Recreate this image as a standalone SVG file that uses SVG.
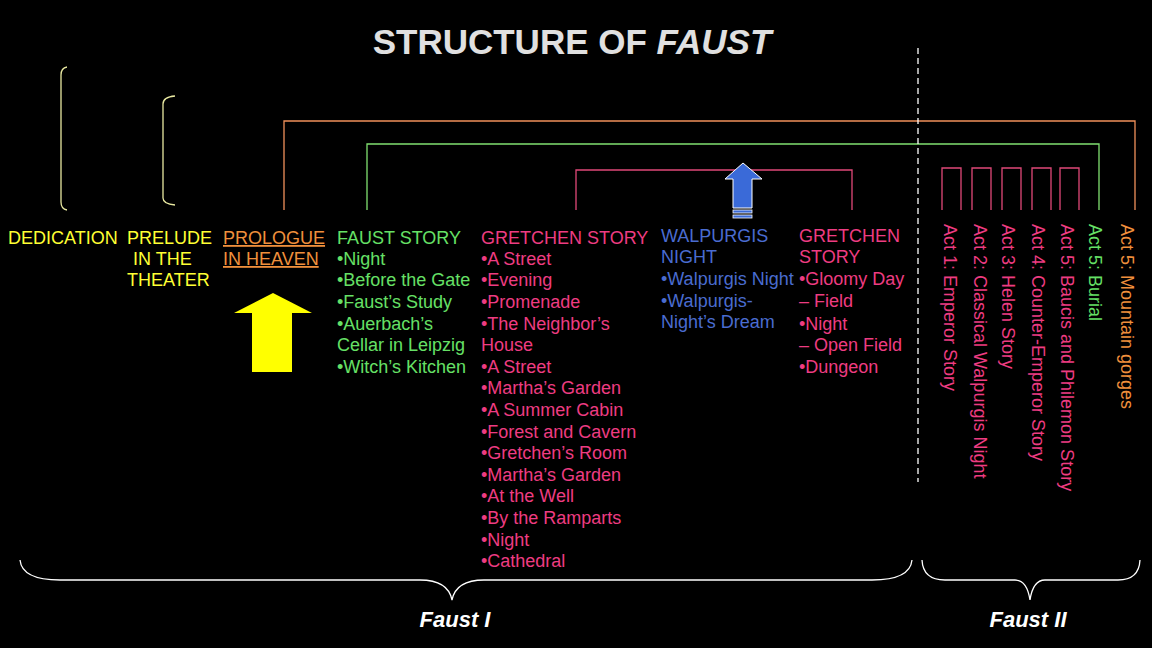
<svg xmlns="http://www.w3.org/2000/svg" width="1152" height="648" viewBox="0 0 1152 648">
<style>
text{font-family:"Liberation Sans",Arial,sans-serif;font-size:18px}
.y{fill:#ffff33}.o{fill:#f0903c}.g{fill:#66e066}.p{fill:#ee3c82}.b{fill:#4a6cd0}
.ln{fill:none;stroke-width:1.3}
</style>
<rect width="1152" height="648" fill="#000"/>
<text x="572" y="54" text-anchor="middle" style="font-size:35px;font-weight:bold" fill="#e0e0e0">STRUCTURE OF <tspan font-style="italic">FAUST</tspan></text>
<g id="connectors">
<path class="ln" stroke="#e8e8a0" d="M67,67 Q61,68 61,75 V202 Q61,209 67,210"/>
<path class="ln" stroke="#e8e8a0" d="M175,96 Q163,97 163,104 V198 Q163,204 175,205"/>
<path class="ln" stroke="#f0905a" d="M284,210 V121 H1135 V210"/>
<path class="ln" stroke="#80e070" d="M367,210 V144 H1099 V210"/>
<path class="ln" stroke="#e04878" d="M576,210 V170 H852 V210"/>
<g class="ln" stroke="#e04878">
<path d="M942,210 V168 H961 V210"/><path d="M972,210 V168 H991 V210"/><path d="M1002,210 V168 H1021 V210"/><path d="M1032,210 V168 H1051 V210"/><path d="M1060,210 V168 H1079 V210"/>
</g>
<line x1="918" y1="48" x2="918" y2="482" stroke="#fff" stroke-width="1.3" stroke-dasharray="6,4"/>
<path class="ln" stroke="#fff" d="M20,560 Q22,580 60,580 H420 Q448,580 452,600 Q456,580 484,580 H872 Q910,580 912,560"/>
<path class="ln" stroke="#fff" d="M922,560 Q923,580 945,580 H1015 Q1027,580 1030,600 Q1033,580 1045,580 H1118 Q1139,580 1140,560"/>
</g>
<g id="yellow-arrow"><polygon points="273,293 312,313 292,313 292,372 252,372 252,313 234,313" fill="#ffff00"/></g>
<g id="blue-arrow"><polygon points="743,163 762,179 752,179 752,208 733,208 733,179 725,179" fill="#3a6ad8" stroke="#fff" stroke-width="1"/>
<rect x="733" y="210" width="19" height="3" fill="#3a6ad8" stroke="#fff" stroke-width="0.8"/><rect x="733" y="215" width="19" height="3" fill="#3a6ad8" stroke="#fff" stroke-width="0.8"/></g>
<g id="dedication"><text class="y" x="8" y="244">DEDICATION</text></g>
<g id="prelude"><text class="y" x="127" y="244">PRELUDE</text><text class="y" x="133" y="265">IN THE</text><text class="y" x="127" y="286">THEATER</text></g>
<g id="prologue"><text class="o" x="223" y="244" text-decoration="underline">PROLOGUE</text><text class="o" x="223" y="265" text-decoration="underline">IN HEAVEN</text></g>
<g id="faust-story"><text class="g" x="337" y="244">FAUST STORY</text><text class="g" x="337" y="265">•Night</text><text class="g" x="337" y="286">•Before the Gate</text><text class="g" x="337" y="308">•Faust’s Study</text><text class="g" x="337" y="330">•Auerbach’s</text><text class="g" x="337" y="351">Cellar in Leipzig</text><text class="g" x="337" y="373">•Witch’s Kitchen</text></g>
<g id="gretchen-story">
<text class="p" x="481" y="244">GRETCHEN STORY</text><text class="p" x="481" y="265">•A Street</text><text class="p" x="481" y="286">•Evening</text><text class="p" x="481" y="308">•Promenade</text><text class="p" x="481" y="330">•The Neighbor’s</text><text class="p" x="481" y="351">House</text><text class="p" x="481" y="373">•A Street</text><text class="p" x="481" y="394">•Martha’s Garden</text><text class="p" x="481" y="416">•A Summer Cabin</text><text class="p" x="481" y="438">•Forest and Cavern</text><text class="p" x="481" y="459">•Gretchen’s Room</text><text class="p" x="481" y="481">•Martha’s Garden</text><text class="p" x="481" y="502">•At the Well</text><text class="p" x="481" y="524">•By the Ramparts</text><text class="p" x="481" y="546">•Night</text><text class="p" x="481" y="567">•Cathedral</text></g>
<g id="walpurgis"><text class="b" x="661" y="242">WALPURGIS</text><text class="b" x="661" y="263">NIGHT</text><text class="b" x="661" y="285">•Walpurgis Night</text><text class="b" x="661" y="307">•Walpurgis-</text><text class="b" x="661" y="328">Night’s Dream</text></g>
<g id="gretchen-story-2"><text class="p" x="799" y="242">GRETCHEN</text><text class="p" x="799" y="263">STORY</text><text class="p" x="799" y="285">•Gloomy Day</text><text class="p" x="799" y="307"> – Field</text><text class="p" x="799" y="330">•Night</text><text class="p" x="799" y="351"> – Open Field</text><text class="p" x="799" y="373">•Dungeon</text></g>
<g id="faust2-acts">
<text class="o" transform="translate(1121,224) rotate(90)">Act 5: Mountain gorges</text>
<text class="g" transform="translate(1089,224) rotate(90)">Act 5: Burial</text>
<text class="p" transform="translate(1061,224) rotate(90)">Act 5: Baucis and Philemon Story</text>
<text class="p" transform="translate(1032,224) rotate(90)">Act 4: Counter-Emperor Story</text>
<text class="p" transform="translate(1002,224) rotate(90)">Act 3: Helen Story</text>
<text class="p" transform="translate(974,224) rotate(90)">Act 2: Classical Walpurgis Night</text>
<text class="p" transform="translate(944,224) rotate(90)">Act 1: Emperor Story</text>
</g>
<g id="labels"><text x="455" y="627" text-anchor="middle" fill="#fff" style="font-size:22px;font-weight:bold;font-style:italic">Faust I</text><text x="1028" y="627" text-anchor="middle" fill="#fff" style="font-size:22px;font-weight:bold;font-style:italic">Faust II</text></g>
</svg>
